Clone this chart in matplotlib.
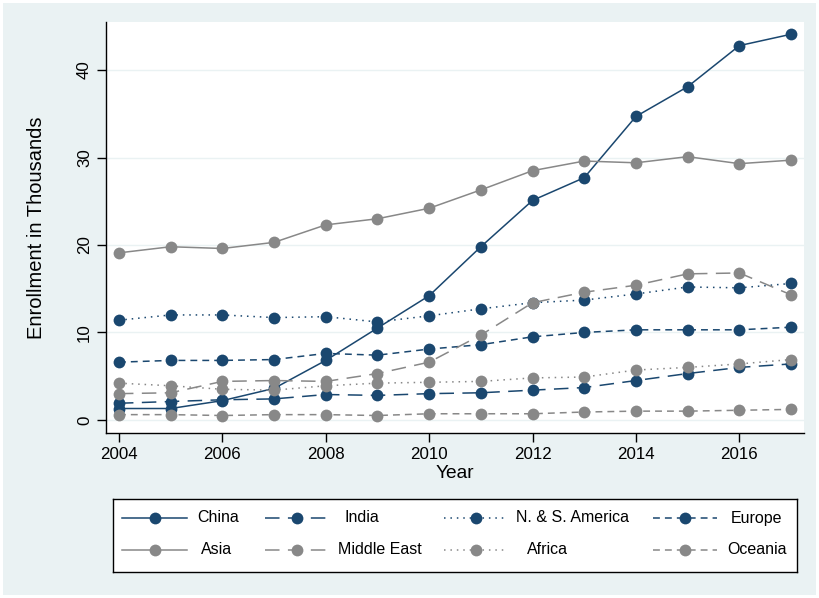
import matplotlib
matplotlib.use("Agg")
import matplotlib.pyplot as plt
from matplotlib.patches import Rectangle

plt.rcParams['font.family'] = ['Liberation Sans', 'DejaVu Sans']

years = list(range(2004, 2018))
china    = [1.3, 1.3, 2.2, 3.6, 6.8, 10.5, 14.2, 19.8, 25.1, 27.7, 34.7, 38.1, 42.8, 44.1]
india    = [1.9, 2.1, 2.3, 2.4, 2.9, 2.8, 3.0, 3.1, 3.4, 3.7, 4.5, 5.3, 6.0, 6.4]
americas = [11.4, 12.0, 12.0, 11.7, 11.8, 11.2, 11.9, 12.7, 13.4, 13.7, 14.4, 15.2, 15.1, 15.6]
europe   = [6.6, 6.8, 6.8, 6.9, 7.6, 7.4, 8.1, 8.6, 9.5, 10.0, 10.3, 10.3, 10.3, 10.6]
asia     = [19.1, 19.8, 19.6, 20.3, 22.3, 23.0, 24.2, 26.3, 28.5, 29.6, 29.4, 30.1, 29.3, 29.7]
mideast  = [3.0, 3.1, 4.4, 4.5, 4.4, 5.3, 6.6, 9.7, 13.4, 14.6, 15.4, 16.7, 16.8, 14.3]
africa   = [4.2, 3.9, 3.5, 3.4, 3.9, 4.2, 4.3, 4.4, 4.8, 4.9, 5.7, 6.0, 6.4, 6.9]
oceania  = [0.6, 0.6, 0.5, 0.6, 0.6, 0.5, 0.7, 0.7, 0.7, 0.9, 1.0, 1.0, 1.1, 1.2]

labels = ["China", "India", "N. & S. America", "Europe",
          "Asia", "Middle East", "Africa", "Oceania"]
xticks = [2004, 2006, 2008, 2010, 2012, 2014, 2016]
yticks = [0, 10, 20, 30, 40]

NAVY = "#1a476f"
GREY = "#888888"
BG = "#eaf2f3"

long_dash = (0, (9.5, 5.5))
short_dash = (0, (4.5, 3.3))
dots = (0, (1, 3.2))

series = [
    (china, NAVY, "-"),
    (india, NAVY, long_dash),
    (americas, NAVY, dots),
    (europe, NAVY, short_dash),
    (asia, GREY, "-"),
    (mideast, GREY, long_dash),
    (africa, GREY, dots),
    (oceania, GREY, short_dash),
]

W, H = 819, 598
fig = plt.figure(figsize=(W / 100, H / 100), dpi=100)
fig.patch.set_facecolor("white")
fig.add_artist(Rectangle((3 / W, 3 / H), 1 - 6 / W, 1 - 6 / H,
                         transform=fig.transFigure, facecolor=BG,
                         edgecolor="none", zorder=-10))

# main plot region (pixel layout)
L, R, T, B = 106, 804, 22, 433
ax = fig.add_axes([L / W, 1 - B / H, (R - L) / W, (B - T) / H])
ax.set_facecolor("white")

for (vals, col, ls), lab in zip(series, labels):
    ax.plot(years, vals, color=col, linestyle=ls, linewidth=1.1,
            marker="o", markersize=8.5, markeredgewidth=0, label=lab)

ax.set_xlim(2003.75, 2017.25)
ax.set_ylim(-1.5, 45.5)
ax.set_xticks(xticks)
ax.set_yticks(yticks)
ax.set_yticklabels([str(v) for v in yticks], rotation=90, va="center")
ax.grid(axis="y", color=BG, linewidth=1.0, zorder=0)
ax.set_axisbelow(True)
for s in ["top", "right"]:
    ax.spines[s].set_visible(False)
for s in ["left", "bottom"]:
    ax.spines[s].set_color("black")
    ax.spines[s].set_linewidth(1.0)
ax.tick_params(axis="both", length=6.5, width=1.0, color="black",
               labelsize=12.2, pad=3.5)
ax.set_xlabel("Year", fontsize=13.8)
ax.xaxis.set_label_coords(0.5, (B - 465) / (B - T))
ax.set_ylabel("Enrollment in Thousands", fontsize=14.5)
ax.yaxis.set_label_coords((46 - L) / (R - L), 0.5)

# legend box (pixel layout)
LL, LR, LT, LB = 113, 797, 499, 572
lax = fig.add_axes([LL / W, 1 - LB / H, (LR - LL) / W, (LB - LT) / H])
lax.set_xlim(LL, LR)
lax.set_ylim(LB, LT)
lax.set_facecolor("white")
lax.set_xticks([])
lax.set_yticks([])
for s in lax.spines.values():
    s.set_color("black")
    s.set_linewidth(1.0)

row_y = [518, 550]
handle_x = [(122, 187), (265, 329), (444, 507), (653, 717)]
label_cx = [218, 362, 573, 757, 217, 380, 547, 757]
for i, ((vals, col, ls), lab) in enumerate(zip(series, labels)):
    r, c = divmod(i, 4)
    x0, x1 = handle_x[c]
    y = row_y[r]
    lax.plot([x0, x1], [y, y], color=col, linestyle=ls, linewidth=1.1)
    lax.plot([(x0 + x1) / 2], [y], color=col, marker="o", markersize=8.5,
             markeredgewidth=0)
    lax.text(label_cx[i], y, lab, ha="center", va="center", fontsize=11.5)

fig.savefig("out.png", dpi=100, facecolor=fig.get_facecolor())
